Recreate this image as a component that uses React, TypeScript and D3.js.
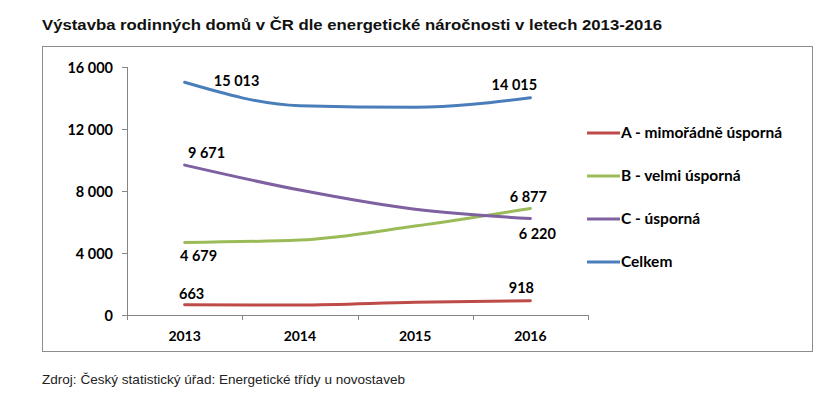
import { useMemo } from "react";
import { scaleLinear, scaleBand, line as d3Line, curveMonotoneX } from "d3";

const YEARS = ["2013", "2014", "2015", "2016"];
const SERIES_NAMES = ["A - mimořádně úsporná", "B - velmi úsporná", "C - úsporná", "Celkem"];
const VALUES_A = [663, 645, 820, 918];
const VALUES_B = [4679, 4840, 5740, 6877];
const VALUES_C = [9671, 8060, 6820, 6220];
const VALUES_TOTAL = [15013, 13500, 13400, 14015];
const Y_TICKS = [0, 4000, 8000, 12000, 16000];
const COLORS = ["#BE4B48", "#9BBB59", "#7F60A0", "#4A7EBB"];

// which points get a label, and where it sits relative to the point
const LABELS = [
  { s: 0, i: 0, dx: 7, dy: -6 },
  { s: 0, i: 3, dx: -9, dy: -8 },
  { s: 1, i: 0, dx: 14, dy: 19 },
  { s: 1, i: 3, dx: -2, dy: -6 },
  { s: 2, i: 0, dx: 22, dy: -7 },
  { s: 2, i: 3, dx: 7, dy: 20 },
  { s: 3, i: 0, dx: 52, dy: 4 },
  { s: 3, i: 3, dx: -16, dy: -8 },
];

const W = 829;
const H = 396;
const PLOT = { left: 127, right: 588, top: 67, bottom: 315 };
const FONT = "Lato, 'Open Sans', sans-serif";

const fmt = (v: number) => {
  const s = String(v);
  return s.length > 3 ? s.slice(0, s.length - 3) + " " + s.slice(-3) : s;
};

export default function App() {
  const series = [VALUES_A, VALUES_B, VALUES_C, VALUES_TOTAL];

  const x = useMemo(() => scaleBand<string>().domain(YEARS).range([PLOT.left, PLOT.right]), []);
  const y = useMemo(() => scaleLinear().domain([0, 16000]).range([PLOT.bottom, PLOT.top]), []);
  const cx = (i: number) => (x(YEARS[i]) ?? 0) + x.bandwidth() / 2;

  const lineGen = d3Line<number>()
    .x((_, i) => cx(i))
    .y((d) => y(d))
    .curve(curveMonotoneX);

  const boundaries = [...YEARS.map((yr) => x(yr) ?? 0), PLOT.right];

  return (
    <svg width={W} height={H} style={{ position: "absolute", left: 0, top: 0, background: "#fff" }}>
      <text x={42} y={30} fontFamily="'Liberation Sans', Arial, sans-serif" fontWeight="bold" fontSize={15} fill="#111" textLength={620} lengthAdjust="spacingAndGlyphs">
        Výstavba rodinných domů v ČR dle energetické náročnosti v letech 2013-2016
      </text>
      <rect x={42.5} y={46.5} width={770} height={305} fill="#fff" stroke="#8c8c8c" />

      {/* y axis */}
      <line x1={PLOT.left + 0.5} x2={PLOT.left + 0.5} y1={PLOT.top} y2={PLOT.bottom} stroke="#868686" />
      {Y_TICKS.map((t) => (
        <g key={t}>
          <line x1={PLOT.left - 5} x2={PLOT.left} y1={Math.round(y(t)) + 0.5} y2={Math.round(y(t)) + 0.5} stroke="#868686" />
          <text x={PLOT.left - 14} y={y(t) + 6} textAnchor="end" fontFamily={FONT} fontWeight="bold" fontSize={14.5} fill="#000">
            {fmt(t)}
          </text>
        </g>
      ))}

      {/* x axis */}
      <line x1={PLOT.left} x2={PLOT.right} y1={PLOT.bottom + 0.5} y2={PLOT.bottom + 0.5} stroke="#868686" />
      {boundaries.map((b, i) => (
        <line key={i} x1={Math.round(b) + 0.5} x2={Math.round(b) + 0.5} y1={PLOT.bottom} y2={PLOT.bottom + 5} stroke="#868686" />
      ))}
      {YEARS.map((yr, i) => (
        <text key={yr} x={cx(i)} y={PLOT.bottom + 26} textAnchor="middle" fontFamily={FONT} fontWeight="bold" fontSize={14} fill="#000">
          {yr}
        </text>
      ))}

      {series.map((vals, s) => (
        <path key={s} d={lineGen(vals) ?? ""} fill="none" stroke={COLORS[s]} strokeWidth={3} strokeLinecap="round" />
      ))}

      {LABELS.map((l, k) => (
        <text key={k} x={cx(l.i) + l.dx} y={y(series[l.s][l.i]) + l.dy} textAnchor="middle" fontFamily={FONT} fontWeight="bold" fontSize={14.5} fill="#000">
          {fmt(series[l.s][l.i])}
        </text>
      ))}

      {/* legend */}
      {SERIES_NAMES.map((name, s) => (
        <g key={name} transform={`translate(587,${133 + s * 43})`}>
          <line x1={0} x2={33} y1={0} y2={0} stroke={COLORS[s]} strokeWidth={3} />
          <text x={34} y={5} fontFamily={FONT} fontWeight="bold" fontSize={15.5} fill="#000">
            {name}
          </text>
        </g>
      ))}

      <text x={42} y={384} fontFamily="'Liberation Sans', Arial, sans-serif" fontSize={13.5} fill="#222" textLength={363} lengthAdjust="spacingAndGlyphs">
        Zdroj: Český statistický úřad: Energetické třídy u novostaveb
      </text>
    </svg>
  );
}
